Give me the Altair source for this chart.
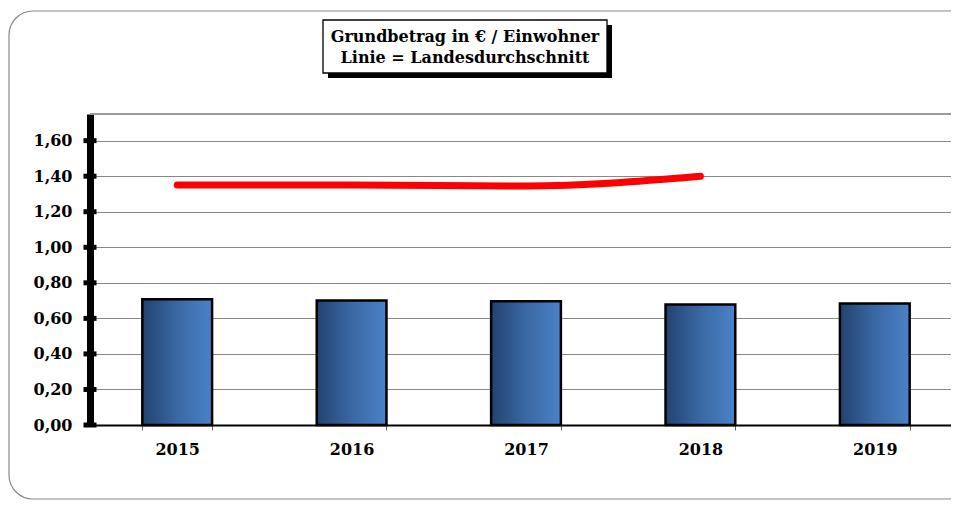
import altair as alt
import pandas as pd

# ---- data ----
years = ["2015", "2016", "2017", "2018", "2019"]
betrag = [0.707, 0.700, 0.696, 0.678, 0.683]
avg_years = ["2015", "2016", "2017", "2018"]
landesdurchschnitt = [1.35, 1.35, 1.345, 1.40]
y_ticks = [0.0, 0.2, 0.4, 0.6, 0.8, 1.0, 1.2, 1.4, 1.6]
title_lines = ["Grundbetrag in € / Einwohner", "Linie = Landesdurchschnitt"]

FONT = "DejaVu Serif"

bars_df = pd.DataFrame({"Jahr": years, "Wert": betrag})
avg_df = pd.DataFrame({"Jahr": avg_years, "Wert": landesdurchschnitt})
ticks_df = pd.DataFrame({"Wert": y_ticks})
one = pd.DataFrame({"a": [0]})

xscale = alt.Scale(domain=years, paddingInner=0.6, paddingOuter=0.3, range=[0, 872])
yscale = alt.Scale(domain=[0, 1.75], nice=False, zero=True)

x_axis = alt.Axis(
    title=None, labelAngle=0, labelFont=FONT, labelFontSize=16, labelFontWeight="bold",
    labelColor="black", domainColor="black", domainWidth=2, tickColor="#666",
    tickWidth=1, tickSize=5, tickBand="extent", labelPadding=11, grid=False,
    labelOverlap=False,
)
y_axis = alt.Axis(
    title=None, values=y_ticks, tickCount=9, labelFont=FONT, labelFontSize=16,
    labelFontWeight="bold", labelColor="black", domainColor="black", domainWidth=7,
    ticks=False, labelPadding=18, grid=True, gridColor="#888", gridWidth=1,
    labelOverlap=False, labelBound=False,
    labelExpr="replace(format(datum.value, '.2f'), '.', ',')",
)

frame = alt.Chart(one).mark_rect(
    fillOpacity=0, stroke="#8a8a8a", strokeWidth=1.2, cornerRadius=24
).encode(x=alt.value(-81), x2=alt.value(900), y=alt.value(-103), y2=alt.value(385))

top_border = alt.Chart(one).mark_rule(color="#999", strokeWidth=2).encode(
    x=alt.value(0), x2=alt.value(900), y=alt.value(0))

shadow = alt.Chart(one).mark_rect(color="black").encode(
    x=alt.value(238), x2=alt.value(522), y=alt.value(-89), y2=alt.value(-36))
box = alt.Chart(one).mark_rect(fill="white", stroke="black", strokeWidth=1.3).encode(
    x=alt.value(233), x2=alt.value(517), y=alt.value(-94), y2=alt.value(-41))
title_style = dict(font=FONT, fontSize=16, fontWeight="bold", color="black",
                   align="center", baseline="middle")
title1 = alt.Chart(one).mark_text(text=title_lines[0], **title_style).encode(
    x=alt.value(375), y=alt.value(-77))
title2 = alt.Chart(one).mark_text(text=title_lines[1], **title_style).encode(
    x=alt.value(375), y=alt.value(-56))

bars = alt.Chart(bars_df).mark_bar(
    fill=alt.Gradient(
        gradient="linear", x1=0, x2=1, y1=0, y2=0,
        stops=[alt.GradientStop(color="#22436f", offset=0),
               alt.GradientStop(color="#3a68a4", offset=0.5),
               alt.GradientStop(color="#4a82c8", offset=1)],
    ),
    stroke="black", strokeWidth=2.5,
).encode(
    x=alt.X("Jahr:N", scale=xscale, axis=x_axis, sort=years),
    y=alt.Y("Wert:Q", scale=yscale, axis=y_axis),
)

line = alt.Chart(avg_df).mark_line(
    color="#ff0000", strokeWidth=7, strokeCap="round", interpolate="monotone"
).encode(
    x=alt.X("Jahr:N", scale=xscale, sort=years, axis=x_axis),
    y=alt.Y("Wert:Q", scale=yscale, axis=y_axis),
)

yticks = alt.Chart(ticks_df).mark_tick(color="black", size=13, thickness=5, opacity=1).encode(
    y=alt.Y("Wert:Q", scale=yscale, axis=y_axis), x=alt.value(0)
)

chart = alt.layer(bars, frame, top_border, shadow, box, title1, title2, line, yticks).properties(
    width=861, height=311,
    autosize=alt.AutoSizeParams(type="none"),
    padding={"left": 82, "top": 106, "right": 0, "bottom": 76},
).configure(background="white").configure_view(stroke=None)

chart.save("out.html", embed_options={"renderer": "svg", "actions": False})
